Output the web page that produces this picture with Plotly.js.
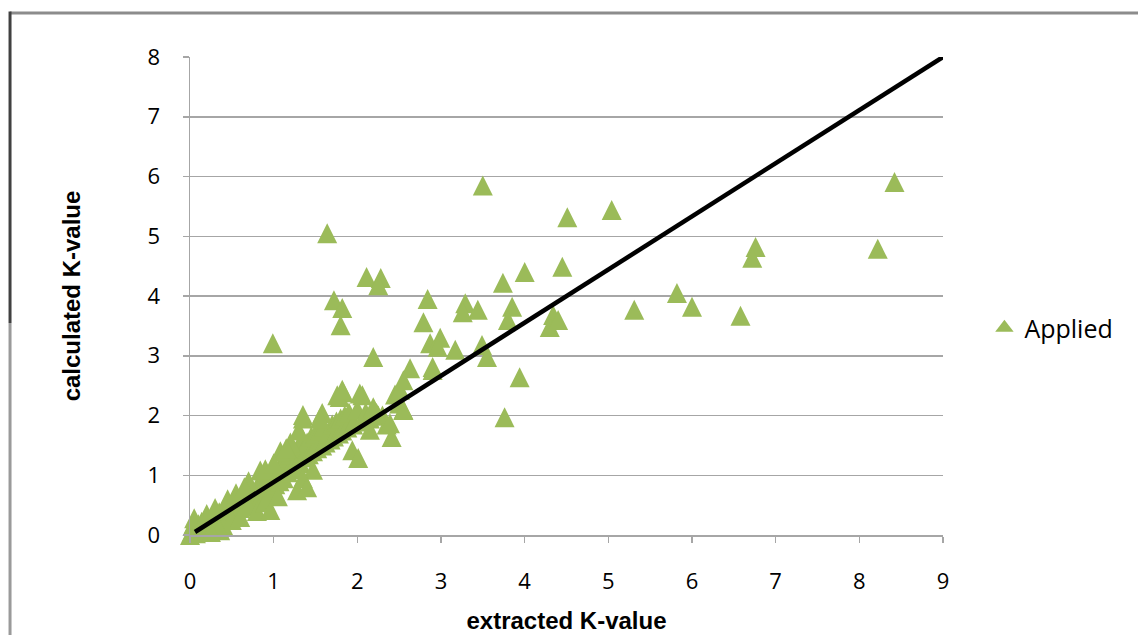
<!DOCTYPE html>
<html>
<head>
<meta charset="utf-8">
<script src="https://cdn.plot.ly/plotly-3.0.1.min.js"></script>
<style>html,body{margin:0;padding:0;background:#fff;}#chart{width:1138px;height:635px;}</style>
</head>
<body>
<div id="chart"></div>
<script>
// extracted K-value (x) and calculated K-value (y) for "Applied"
const extractedK = [
  0.00,0.02,0.03,0.05,0.05,0.07,0.08,0.10,0.10,0.12,0.14,0.15,0.17,0.20,0.20,0.22,0.25,0.27,0.30,0.30,
  0.33,0.35,0.38,0.40,0.42,0.45,0.48,0.50,0.52,0.55,0.57,0.60,0.62,0.65,0.68,0.70,0.72,0.75,0.78,0.80,
  0.82,0.85,0.87,0.90,0.92,0.95,0.97,1.00,1.02,1.05,1.07,1.10,1.12,1.15,1.17,1.20,1.22,1.25,1.27,1.30,
  1.32,1.35,1.37,1.40,1.42,1.45,1.47,1.50,1.52,1.55,1.58,1.60,1.62,1.65,1.68,1.70,1.72,1.75,1.78,1.80,
  1.82,1.85,1.88,1.90,1.95,2.00,2.05,2.10,2.15,2.20,2.25,2.30,2.35,
  0.60,0.70,0.80,0.90,0.96,1.05,1.28,1.47,0.36,
  0.70,0.84,0.90,1.08,1.20,1.30,1.35,0.05,
  0.40,0.50,0.60,0.45,0.55,0.65,0.30,0.20,0.35,0.25,1.00,1.15,
  1.35,1.40,1.94,2.01,2.41,2.39,2.15,2.23,2.55,1.83,2.06,1.58,1.35,1.55,1.79,2.03,2.19,
  2.50,2.55,2.45,2.51,2.55,2.63,2.90,1.76,1.82,
  3.50,8.42,8.22,6.76,6.72,5.82,6.00,6.58,5.31,5.04,4.51,4.45,4.00,3.94,3.76,
  1.64,0.99,2.11,2.28,2.25,1.72,1.82,1.80,2.19,
  2.84,2.79,3.29,3.44,3.26,3.74,3.85,3.80,4.34,4.30,4.40,
  3.49,3.55,2.87,2.99,2.96,3.17,2.90
];
const calculatedK = [
  0.00,0.05,0.15,0.10,0.20,0.03,0.12,0.05,0.18,0.10,0.22,0.08,0.15,0.20,0.12,0.27,0.18,0.30,0.22,0.33,
  0.27,0.38,0.30,0.42,0.33,0.47,0.38,0.50,0.43,0.55,0.46,0.58,0.50,0.62,0.55,0.68,0.58,0.75,0.62,0.80,
  0.66,0.85,0.70,0.90,0.75,0.95,0.80,1.02,0.85,1.08,0.90,1.20,0.95,1.30,1.05,1.35,1.10,1.42,1.15,1.50,
  1.20,1.60,1.30,1.55,1.35,1.65,1.40,1.70,1.45,1.75,1.50,1.82,1.55,1.70,1.60,1.85,1.65,1.90,1.70,1.95,
  1.75,2.00,1.80,2.05,1.85,2.10,1.90,2.05,1.95,2.10,2.00,2.00,1.85,
  0.45,0.48,0.40,0.55,0.42,0.65,0.75,1.09,0.08,
  0.90,1.08,1.10,1.40,1.55,1.75,1.95,0.28,
  0.15,0.25,0.30,0.60,0.70,0.80,0.45,0.35,0.10,0.05,1.20,1.45,
  0.95,0.80,1.42,1.29,1.64,1.87,1.76,2.04,2.09,2.39,2.34,2.04,2.01,1.95,2.31,2.37,2.14,
  2.20,2.10,2.35,2.43,2.59,2.79,2.81,2.34,2.43,
  5.85,5.91,4.79,4.82,4.64,4.05,3.82,3.67,3.77,5.44,5.32,4.49,4.40,2.64,1.97,
  5.05,3.21,4.32,4.30,4.18,3.93,3.80,3.51,2.98,
  3.95,3.56,3.88,3.77,3.73,4.22,3.82,3.60,3.68,3.48,3.60,
  3.18,2.98,3.21,3.30,3.15,3.10,2.76
];
const seriesName = "Applied";
// reference line
const lineX = [0.06, 9];
const lineY = [0.05, 8];
const xTicks = [0,1,2,3,4,5,6,7,8,9];
const yTicks = [0,1,2,3,4,5,6,7,8];

const GREEN = '#9BBB59';
// upward triangle centred on the point (arrow shape flipped and centred)
const MS = 20;
const traces = [
  {
    x: extractedK, y: calculatedK, type: 'scatter', mode: 'markers', name: seriesName,
    showlegend: false, legendgroup: 'a',
    marker: {symbol: 'arrow-down', angle: 180, standoff: MS / 2, size: MS, color: GREEN, line: {width: 0}},
    cliponaxis: false
  },
  {
    // legend entry for the same series
    x: [null], y: [null], type: 'scatter', mode: 'markers', name: seriesName,
    showlegend: true, legendgroup: 'a',
    marker: {symbol: 'triangle-up', size: 16, color: GREEN, line: {width: 0}}
  },
  {
    x: lineX, y: lineY, type: 'scatter', mode: 'lines', showlegend: false,
    line: {color: '#000000', width: 4.5}, hoverinfo: 'skip', cliponaxis: false
  }
];

const layout = {
  width: 1138, height: 635,
  margin: {l: 190, r: 195, t: 57, b: 100},
  paper_bgcolor: '#ffffff', plot_bgcolor: '#ffffff',
  font: {family: 'Open Sans, Liberation Sans, sans-serif', size: 22, color: '#000'},
  showlegend: true,
  legend: {x: 1.055, y: 0.433, xanchor: 'left', yanchor: 'middle', bgcolor: 'rgba(0,0,0,0)',
           font: {size: 25, family: 'Open Sans, sans-serif'}, itemwidth: 30},
  xaxis: {
    range: [0, 9], tickvals: xTicks, ticktext: xTicks.map(String),
    showgrid: false, zeroline: false, showline: true, linecolor: '#a6a6a6', linewidth: 1.5,
    ticks: 'outside', ticklen: 6, tickcolor: '#a6a6a6', tickwidth: 1.5,
    ticklabelstandoff: 20,
    tickfont: {size: 22, family: 'Open Sans, sans-serif'},
    title: {text: '<b>extracted K-value</b>', font: {size: 24, family: 'Liberation Sans, sans-serif'}, standoff: 18}
  },
  yaxis: {
    range: [0, 8], tickvals: yTicks, ticktext: yTicks.map(String),
    showgrid: true, gridcolor: '#a6a6a6', gridwidth: 1.5, zeroline: false,
    showline: true, linecolor: '#a6a6a6', linewidth: 1.5,
    ticks: 'outside', ticklen: 6, tickcolor: '#a6a6a6', tickwidth: 1.5,
    ticklabelstandoff: 18,
    tickfont: {size: 22, family: 'Open Sans, sans-serif'},
    title: {text: '<b>calculated K-value</b>', font: {size: 24, family: 'Liberation Sans, sans-serif'}, standoff: 60}
  },
  shapes: [
    {type: 'line', xref: 'paper', yref: 'paper', x0: -0.239, x1: 1.26, y0: 1.092, y1: 1.092,
     line: {color: '#8c8c8c', width: 3}},
    {type: 'line', xref: 'paper', yref: 'paper', x0: -0.239, x1: -0.239, y0: 1.095, y1: 0.4435,
     line: {color: '#404040', width: 3}},
    {type: 'line', xref: 'paper', yref: 'paper', x0: -0.239, x1: -0.239, y0: 0.4435, y1: -0.21,
     line: {color: '#9a9a9a', width: 3}}
  ]
};

Plotly.newPlot('chart', traces, layout, {displayModeBar: false, staticPlot: true});
</script>
</body>
</html>
